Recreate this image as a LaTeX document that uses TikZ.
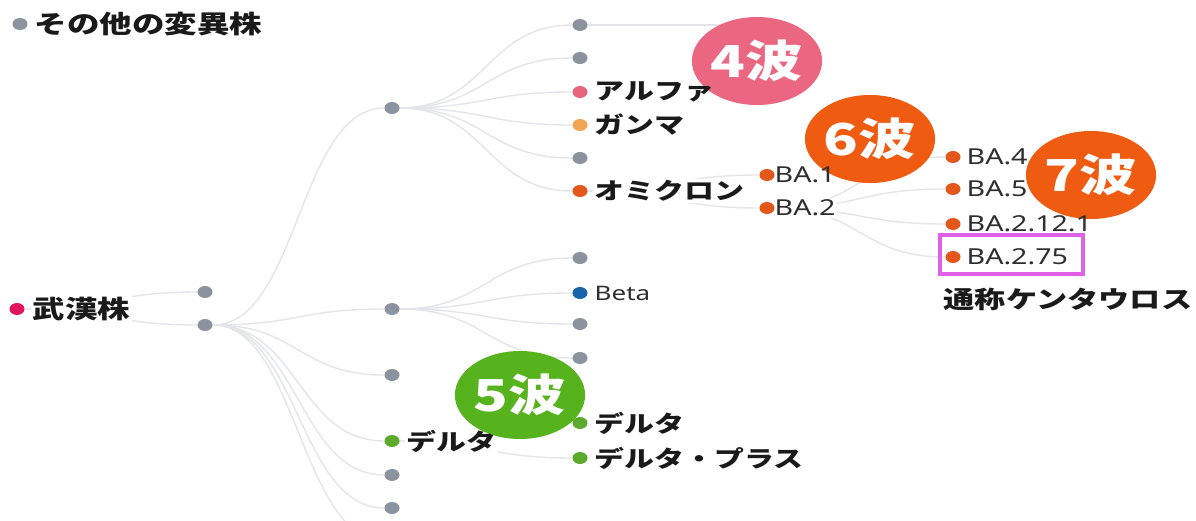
\documentclass[tikz,border=0pt]{standalone}
\usepackage{fontspec}
\usepackage{graphicx}
\usetikzlibrary{calc,shapes.geometric}
\newfontfamily\jp{Noto Sans CJK JP}
\newfontfamily\lat{Noto Sans}
\newcommand\hs[1]{\scalebox{1.3}[1]{#1}}
\definecolor{dotgray}{HTML}{8A939E}
\definecolor{edgegray}{HTML}{E3E5E9}
\definecolor{wuhan}{HTML}{E0145C}
\definecolor{alpha}{HTML}{E8657E}
\definecolor{gamma}{HTML}{F2A654}
\definecolor{omi}{HTML}{E4571B}
\definecolor{beta}{HTML}{1565A8}
\definecolor{delta}{HTML}{5BAA2C}
\definecolor{bpink}{HTML}{EB6681}
\definecolor{borange}{HTML}{EF5B10}
\definecolor{bgreen}{HTML}{56B31D}
\definecolor{boxmag}{HTML}{E060E8}
\definecolor{txt}{HTML}{1A1A1A}
\definecolor{txtba}{HTML}{2E2E2E}
\pgfdeclarelayer{edgelayer}
\pgfdeclarelayer{halo}
\pgfsetlayers{edgelayer,halo,main}
\newcommand\lnk[2]{\path ($(#1)!0.5!(#2)$) coordinate (lnkm);
  \draw[edge] (#1) .. controls (lnkm |- #1) and (lnkm |- #2) .. (#2);}
\begin{document}
\begin{tikzpicture}[x=1pt,y=-1pt,
  dot/.style={ellipse,inner sep=0pt,minimum width=15pt,minimum height=12pt,fill=dotgray},
  edge/.style={draw=edgegray,line width=1.4pt},
  jbig/.style={anchor=west,inner sep=1.5pt,text=txt,font=\jp\bfseries\fontsize{25}{25}\selectfont},
  jmed/.style={anchor=west,inner sep=1.5pt,text=txt,font=\jp\bfseries\fontsize{23}{23}\selectfont},
  balab/.style={anchor=west,inner sep=1.5pt,text=txtba,font=\lat\fontsize{22}{22}\selectfont},
  betalab/.style={anchor=west,inner sep=1.5pt,text=txtba,font=\lat\fontsize{20}{20}\selectfont},
  badge/.style={ellipse,inner sep=0pt,minimum width=114pt,minimum height=88pt,text=white,font=\jp\bfseries\fontsize{44}{44}\selectfont}]
\useasboundingbox (0,0) rectangle (1196,520);
\begin{pgfonlayer}{edgelayer}
\fill[white] (0,0) rectangle (1196,520);
\end{pgfonlayer}
% dots
\node[dot] (lg) at (20,24) {};
\node[dot,fill=wuhan] (w) at (17,309) {};
\node[dot] (a1) at (205,292) {};
\node[dot] (a2) at (205,325) {};
\node[dot] (b1) at (392,108) {};
\node[dot] (b2) at (392,309) {};
\node[dot] (b3) at (392,375) {};
\node[dot,fill=delta] (b4) at (392,441) {};
\node[dot] (b5) at (392,475) {};
\node[dot] (b6) at (392,508) {};
\coordinate (h2) at (392,545);
\node[dot] (c1) at (580,25) {};
\node[dot] (c2) at (580,58) {};
\node[dot,fill=alpha] (c3) at (580,92) {};
\node[dot,fill=gamma] (c4) at (580,125) {};
\node[dot] (c5) at (580,158) {};
\node[dot,fill=omi] (c6) at (580,191) {};
\coordinate (h1) at (768,25);
\node[dot] (d1) at (580,258) {};
\node[dot,fill=beta] (d2) at (580,293) {};
\node[dot] (d3) at (580,324) {};
\node[dot] (d4) at (580,358) {};
\node[dot,fill=delta] (e1) at (580,423) {};
\node[dot,fill=delta] (e2) at (580,458) {};
\node[dot,fill=omi] (f1) at (767,175) {};
\node[dot,fill=omi] (f2) at (767,208) {};
\node[dot,fill=omi] (g1) at (953,157) {};
\node[dot,fill=omi] (g2) at (953,189) {};
\node[dot,fill=omi] (g3) at (953,224) {};
\node[dot,fill=omi] (g4) at (953,257) {};
% edges
\begin{pgfonlayer}{edgelayer}
\lnk{w}{a1}\lnk{w}{a2}
\lnk{a2}{b1}\lnk{a2}{b2}\lnk{a2}{b3}\lnk{a2}{b4}\lnk{a2}{b5}\lnk{a2}{b6}\lnk{a2}{h2}
\lnk{b1}{c1}\lnk{b1}{c2}\lnk{b1}{c3}\lnk{b1}{c4}\lnk{b1}{c5}\lnk{b1}{c6}
\lnk{c1}{h1}
\lnk{b2}{d1}\lnk{b2}{d2}\lnk{b2}{d3}\lnk{b2}{d4}
\lnk{b4}{e1}\lnk{b4}{e2}
\lnk{c6}{f1}\lnk{c6}{f2}
\lnk{f2}{g1}\lnk{f2}{g2}\lnk{f2}{g3}\lnk{f2}{g4}
\end{pgfonlayer}
% badges
\node[badge,fill=bpink] (w4) at (757,61) {\hs{4波}};
\node[badge,fill=borange] (w6) at (870,139) {\hs{6波}};
\node[badge,fill=borange] (w7) at (1091,175) {\hs{7波}};
\node[badge,fill=bgreen] (w5) at (520,395) {\hs{5波}};
% labels
\node[jbig] (llg) at (33,24) {\hs{その他の変異株}};
\node[jbig] (lw) at (31,309) {\hs{武漢株}};
\node[jmed] (lc3) at (593,92) {\hs{アルファ}};
\node[jmed] (lc4) at (593,125) {\hs{ガンマ}};
\node[jmed] (lc6) at (593,191) {\hs{オミクロン}};
\node[betalab] (ld2) at (593,293) {\hs{Beta}};
\node[jmed] (lb4) at (405,441) {\hs{デルタ}};
\node[jmed] (le1) at (593,423) {\hs{デルタ}};
\node[jmed] (le2) at (593,458) {\hs{デルタ・プラス}};
\node[balab] (lf1) at (773,175) {\hs{BA.1}};
\node[balab] (lf2) at (773,208) {\hs{BA.2}};
\node[balab] (lg1) at (965,157) {\hs{BA.4}};
\node[balab] (lg2) at (965,189) {\hs{BA.5}};
\node[balab] (lg3) at (965,224) {\hs{BA.2.12.1}};
\node[balab] (lg4) at (965,257) {\hs{BA.2.75}};
\node[jbig,font=\jp\bfseries\fontsize{24}{24}\selectfont] (lnick) at (942,299) {\hs{通称ケンタウロス}};
\begin{pgfonlayer}{halo}
\foreach \n in {llg,lw,lc3,lc4,lc6,ld2,lb4,le1,le2,lf1,lf2,lg1,lg2,lg3,lg4,lnick}
  \fill[white] (\n.south west) rectangle (\n.north east);
\end{pgfonlayer}
% highlight box
\draw[boxmag,line width=3.5pt] (940,235) rectangle (1083,274);
\end{tikzpicture}
\end{document}
